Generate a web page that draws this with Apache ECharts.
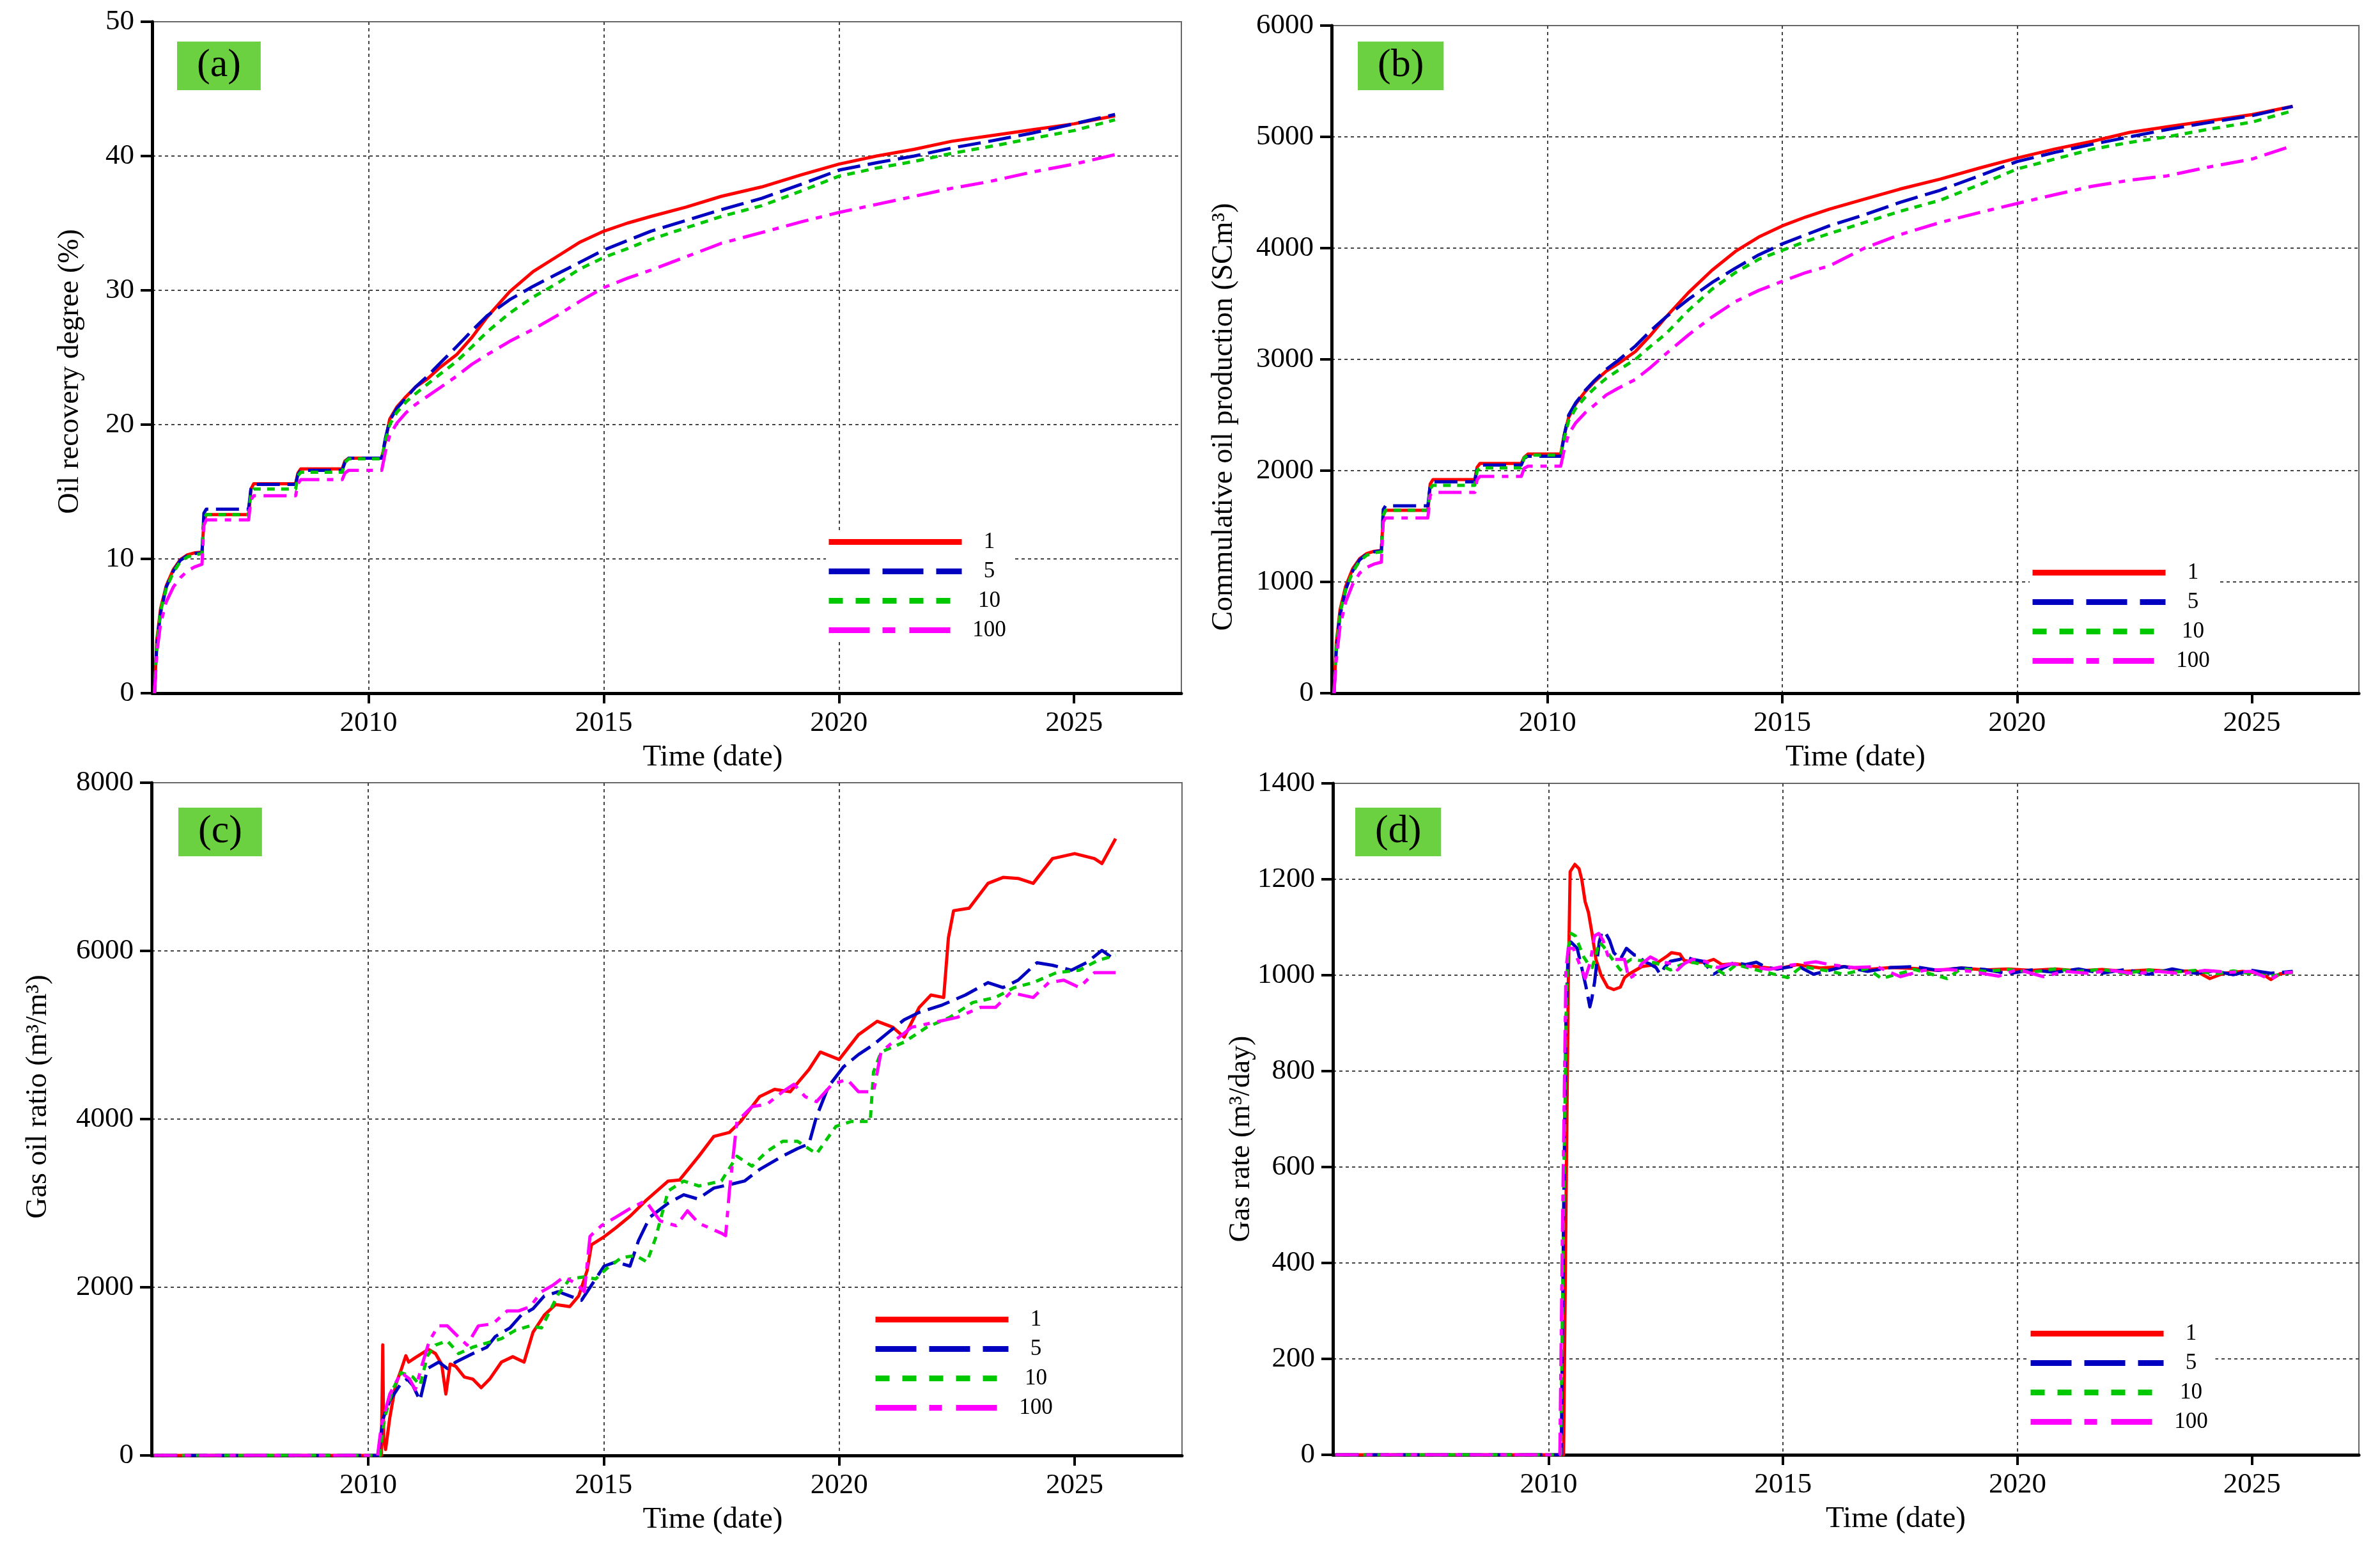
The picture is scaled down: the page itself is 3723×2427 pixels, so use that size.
<!DOCTYPE html>
<html>
<head>
<meta charset="utf-8">
<script src="https://cdn.jsdelivr.net/npm/echarts@6/dist/echarts.min.js"></script>
<style>
  html, body { margin: 0; padding: 0; background: #fff; }
  #chart { width: 3723px; height: 2427px; }
</style>
</head>
<body>
<div id="chart"></div>
<script>
/*
 * Four panels (a)-(d): recovery, cumulative oil, GOR and gas rate versus time
 * for the four cases 1, 5, 10, 100. Time is kept as decimal years.
 */
var caseNames = ['1', '5', '10', '100'];
var yearTicks = [2010, 2015, 2020, 2025];

// (a) and (b) share the step-wise time base
var stepYears = [2005.45, 2005.5, 2005.58, 2005.7, 2005.85, 2006.0, 2006.15, 2006.3, 2006.46, 2006.5, 2006.55,
  2007.45, 2007.5, 2007.56, 2008.45, 2008.5, 2008.56, 2009.44, 2009.5, 2009.58, 2010.28, 2010.36, 2010.45,
  2010.6, 2010.8, 2011.0, 2011.25, 2011.5, 2011.87, 2012.2, 2012.52, 2013.0, 2013.5, 2014.0, 2014.5, 2015.0,
  2015.5, 2016.0, 2016.75, 2017.5, 2018.36, 2019.2, 2020.0, 2020.8, 2021.6, 2022.4, 2023.2, 2024.1, 2025.0, 2025.87];

// (a) oil recovery degree, %
var recovery1 = [0, 4.0, 6.3, 8.0, 9.2, 9.95, 10.3, 10.45, 10.5, 12.8, 13.3, 13.3, 15.2, 15.6, 15.6, 16.4, 16.7, 16.7,
  17.3, 17.5, 17.5, 18.8, 20.4, 21.3, 22.1, 22.8, 23.4, 24.2, 25.2, 26.5, 28.0, 29.9, 31.4, 32.5, 33.6, 34.4, 35.0,
  35.5, 36.2, 37.0, 37.7, 38.6, 39.4, 40.0, 40.5, 41.1, 41.5, 41.95, 42.4, 43.0];
var recovery5 = [0, 3.6, 6.0, 7.9, 9.1, 9.9, 10.25, 10.4, 10.45, 13.4, 13.7, 13.7, 15.2, 15.55, 15.55, 16.3, 16.6, 16.6,
  17.2, 17.5, 17.5, 19.0, 20.3, 21.2, 22.0, 22.8, 23.6, 24.5, 25.8, 27.0, 28.1, 29.3, 30.3, 31.2, 32.1, 33.0, 33.7,
  34.4, 35.2, 36.0, 36.85, 37.9, 38.95, 39.5, 40.0, 40.6, 41.1, 41.7, 42.4, 43.1];
var recovery10 = [0, 3.8, 6.1, 7.8, 9.0, 9.8, 10.15, 10.3, 10.4, 12.9, 13.3, 13.3, 14.9, 15.2, 15.2, 16.2, 16.45, 16.45,
  17.2, 17.45, 17.45, 18.8, 20.0, 20.9, 21.7, 22.3, 23.0, 23.7, 24.7, 25.8, 26.9, 28.3, 29.5, 30.5, 31.6, 32.45, 33.1,
  33.8, 34.65, 35.5, 36.3, 37.4, 38.5, 39.1, 39.6, 40.2, 40.7, 41.3, 41.9, 42.7];
var recovery100 = [0, 3.0, 5.2, 6.8, 7.9, 8.6, 9.1, 9.4, 9.6, 12.5, 12.9, 12.9, 14.4, 14.7, 14.7, 15.6, 15.9, 15.9,
  16.4, 16.6, 16.6, 18.0, 19.2, 20.1, 20.9, 21.5, 22.1, 22.7, 23.6, 24.5, 25.2, 26.2, 27.1, 28.1, 29.2, 30.2, 30.9,
  31.5, 32.5, 33.5, 34.3, 35.1, 35.8, 36.4, 37.0, 37.6, 38.1, 38.8, 39.4, 40.1];

// (b) cumulative oil production, SCm3
var cumOil1 = [0, 450, 750, 960, 1120, 1210, 1255, 1275, 1283, 1600, 1644, 1644, 1880, 1920, 1920, 2030, 2064, 2064,
  2120, 2149, 2149, 2330, 2480, 2600, 2710, 2800, 2895, 2960, 3070, 3220, 3380, 3600, 3800, 3970, 4100, 4200, 4280,
  4350, 4440, 4530, 4620, 4720, 4810, 4890, 4960, 5040, 5090, 5145, 5200, 5274];
var cumOil5 = [0, 380, 700, 930, 1100, 1200, 1250, 1270, 1280, 1650, 1684, 1684, 1870, 1900, 1900, 2020, 2050, 2050,
  2110, 2130, 2130, 2330, 2500, 2610, 2720, 2810, 2910, 2990, 3120, 3260, 3380, 3540, 3690, 3820, 3940, 4038, 4120,
  4200, 4300, 4410, 4520, 4650, 4778, 4860, 4933, 5000, 5066, 5130, 5190, 5274];
var cumOil10 = [0, 400, 720, 930, 1090, 1190, 1240, 1262, 1270, 1600, 1644, 1644, 1840, 1868, 1868, 2000, 2025, 2025,
  2115, 2140, 2140, 2300, 2450, 2560, 2660, 2740, 2830, 2900, 3000, 3120, 3230, 3440, 3630, 3780, 3900, 3981, 4060,
  4130, 4230, 4330, 4430, 4570, 4711, 4800, 4889, 4950, 5000, 5070, 5132, 5234];
var cumOil100 = [0, 300, 600, 820, 980, 1080, 1130, 1160, 1178, 1540, 1575, 1575, 1780, 1805, 1805, 1920, 1948, 1948,
  2020, 2040, 2040, 2200, 2330, 2430, 2520, 2590, 2680, 2740, 2820, 2930, 3050, 3220, 3380, 3520, 3620, 3702, 3780,
  3840, 4000, 4120, 4230, 4320, 4401, 4480, 4556, 4610, 4650, 4730, 4800, 4920];

// (c) gas oil ratio, m3/m3
var gorYears1 = [2005.45, 2010.28, 2010.31, 2010.33, 2010.37, 2010.46, 2010.58, 2010.71, 2010.8, 2010.86, 2011.0,
  2011.28, 2011.43, 2011.56, 2011.65, 2011.74, 2011.86, 2012.04, 2012.22, 2012.4, 2012.58, 2012.83, 2013.07, 2013.31,
  2013.5, 2013.74, 2013.98, 2014.28, 2014.47, 2014.65, 2014.74, 2015.01, 2015.26, 2015.57, 2015.89, 2016.37, 2016.61,
  2017.02, 2017.34, 2017.67, 2017.91, 2018.31, 2018.63, 2018.96, 2019.36, 2019.6, 2020.0, 2020.41, 2020.81, 2021.14,
  2021.38, 2021.7, 2021.95, 2022.22, 2022.32, 2022.43, 2022.76, 2023.16, 2023.48, 2023.8, 2024.12, 2024.53, 2025.0,
  2025.42, 2025.58, 2025.87];
var gor1 = [0, 0, 1316, 200, 70, 451, 831, 1034, 1186, 1110, 1163, 1262, 1211, 1086, 730, 1086, 1060, 933, 908, 806,
  908, 1110, 1174, 1110, 1465, 1668, 1795, 1770, 1896, 2200, 2504, 2600, 2707, 2850, 3027, 3263, 3275, 3558, 3794,
  3841, 3971, 4266, 4354, 4325, 4590, 4797, 4708, 5003, 5163, 5092, 4974, 5328, 5475, 5446, 6154, 6478, 6508, 6803,
  6874, 6862, 6803, 7098, 7157, 7098, 7039, 7334];
var gorYears5 = [2005.45, 2010.22, 2010.31, 2010.46, 2010.7, 2010.83, 2010.95, 2011.1, 2011.26, 2011.5, 2011.68,
  2011.86, 2012.22, 2012.52, 2012.7, 2013.01, 2013.25, 2013.5, 2013.74, 2014.04, 2014.28, 2014.53, 2014.77, 2015.01,
  2015.26, 2015.56, 2015.74, 2015.98, 2016.37, 2016.7, 2017.0, 2017.34, 2017.67, 2017.99, 2018.31, 2018.8, 2019.12,
  2019.36, 2019.52, 2019.77, 2020.09, 2020.41, 2020.73, 2021.05, 2021.38, 2021.7, 2022.19, 2022.68, 2023.16, 2023.48,
  2023.8, 2024.2, 2024.53, 2024.93, 2025.25, 2025.58, 2025.87];
var gor5 = [0, 0, 426, 654, 857, 908, 832, 654, 1034, 1110, 1034, 1110, 1211, 1287, 1414, 1516, 1668, 1744, 1896,
  1947, 1896, 1845, 2048, 2251, 2301, 2251, 2555, 2833, 3000, 3100, 3050, 3180, 3220, 3263, 3400, 3560, 3650, 3705,
  4030, 4384, 4620, 4767, 4885, 5033, 5180, 5269, 5357, 5475, 5623, 5564, 5652, 5859, 5829, 5770, 5859, 6006, 5888];
var gorYears10 = [2005.45, 2010.25, 2010.34, 2010.52, 2010.7, 2010.95, 2011.1, 2011.26, 2011.43, 2011.68, 2011.92,
  2012.22, 2012.52, 2012.83, 2013.13, 2013.44, 2013.68, 2013.86, 2014.04, 2014.28, 2014.59, 2014.83, 2015.07, 2015.38,
  2015.68, 2015.92, 2016.1, 2016.22, 2016.37, 2016.7, 2017.02, 2017.5, 2017.83, 2018.15, 2018.47, 2018.8, 2019.12,
  2019.52, 2019.93, 2020.25, 2020.66, 2020.73, 2020.89, 2021.38, 2021.86, 2022.35, 2022.84, 2023.32, 2023.72, 2024.12,
  2024.61, 2025.1, 2025.5, 2025.87];
var gor10 = [0, 0, 426, 781, 984, 933, 832, 1186, 1313, 1363, 1211, 1287, 1338, 1389, 1490, 1541, 1516, 1718, 1921,
  2099, 2124, 2099, 2225, 2352, 2377, 2301, 2580, 2833, 3145, 3263, 3204, 3263, 3558, 3440, 3617, 3735, 3735, 3587,
  3912, 3971, 3971, 4561, 4797, 4915, 5092, 5210, 5387, 5446, 5564, 5623, 5741, 5770, 5888, 5947];
var gorYears100 = [2005.45, 2010.2, 2010.28, 2010.46, 2010.7, 2010.88, 2011.0, 2011.15, 2011.3, 2011.49, 2011.68,
  2011.86, 2012.1, 2012.34, 2012.65, 2012.95, 2013.19, 2013.44, 2013.68, 2013.92, 2014.16, 2014.4, 2014.59, 2014.71,
  2014.95, 2015.26, 2015.6, 2015.89, 2016.2, 2016.54, 2016.78, 2017.02, 2017.5, 2017.59, 2017.67, 2017.83, 2018.15,
  2018.47, 2018.8, 2019.04, 2019.28, 2019.52, 2019.85, 2020.17, 2020.41, 2020.73, 2020.89, 2021.14, 2021.54, 2022.03,
  2022.51, 2023.0, 2023.32, 2023.64, 2024.12, 2024.45, 2024.77, 2025.1, 2025.42, 2025.87];
var gor100 = [0, 0, 355, 730, 984, 908, 781, 1086, 1363, 1541, 1541, 1440, 1313, 1541, 1566, 1718, 1718, 1769, 1947,
  2023, 2124, 2048, 1947, 2605, 2732, 2833, 2950, 3027, 2790, 2732, 2909, 2761, 2643, 2614, 3145, 3971, 4148, 4177,
  4325, 4413, 4266, 4207, 4413, 4472, 4325, 4325, 4797, 4915, 5092, 5151, 5210, 5328, 5328, 5505, 5446, 5623, 5652,
  5564, 5741, 5741];

// (d) gas rate, m3/day
var rateYears1 = [2005.45, 2010.32, 2010.38, 2010.42, 2010.46, 2010.56, 2010.65, 2010.71, 2010.78, 2010.85, 2010.92,
  2011.01, 2011.12, 2011.26, 2011.39, 2011.53, 2011.62, 2011.71, 2011.99, 2012.26, 2012.53, 2012.62, 2012.8, 2012.89,
  2013.07, 2013.34, 2013.52, 2013.7, 2013.97, 2014.43, 2014.88, 2015.3, 2015.8, 2016.3, 2016.8, 2017.3, 2017.8,
  2018.3, 2018.8, 2019.3, 2019.8, 2020.3, 2020.8, 2021.3, 2021.8, 2022.3, 2022.8, 2023.3, 2023.8, 2024.1, 2024.4,
  2024.8, 2025.2, 2025.4, 2025.6, 2025.87];
var rate1 = [0, 0, 600, 980, 1216, 1231, 1222, 1198, 1153, 1131, 1091, 1033, 1000, 975, 970, 975, 995, 1002, 1018,
  1022, 1040, 1047, 1044, 1031, 1027, 1027, 1033, 1022, 1024, 1018, 1013, 1022, 1015, 1018, 1012, 1016, 1014, 1010,
  1015, 1011, 1013, 1010, 1013, 1009, 1012, 1008, 1011, 1008, 1009, 993, 1004, 1008, 1004, 991, 1003, 1006];
var rateYears5 = [2005.45, 2010.27, 2010.32, 2010.37, 2010.42, 2010.48, 2010.61, 2010.72, 2010.8, 2010.88, 2010.92,
  2010.98, 2011.08, 2011.14, 2011.21, 2011.3, 2011.39, 2011.53, 2011.66, 2011.72, 2011.83, 2011.93, 2012.02, 2012.15,
  2012.29, 2012.38, 2012.47, 2012.6, 2012.8, 2012.93, 2013.07, 2013.29, 2013.52, 2013.75, 2013.97, 2014.2, 2014.43,
  2014.65, 2014.88, 2015.3, 2015.65, 2016.3, 2016.8, 2017.3, 2017.8, 2018.3, 2018.8, 2019.3, 2019.8, 2020.3, 2020.8,
  2021.3, 2021.8, 2022.3, 2022.8, 2023.3, 2023.8, 2024.2, 2024.6, 2025.0, 2025.4, 2025.87];
var rate5 = [0, 0, 500, 900, 1060, 1069, 1056, 1010, 975, 934, 950, 985, 1069, 1091, 1089, 1073, 1047, 1033, 1056,
  1051, 1042, 1042, 1029, 1024, 1016, 1002, 1016, 1029, 1033, 1038, 1033, 1029, 1002, 1016, 1027, 1022, 1027, 1016,
  1013, 1020, 1002, 1018, 1008, 1016, 1018, 1010, 1015, 1012, 1003, 1011, 1006, 1013, 1004, 1012, 1002, 1013, 1004,
  1009, 1001, 1010, 1004, 1008];
var rateYears10 = [2005.45, 2010.26, 2010.32, 2010.38, 2010.42, 2010.48, 2010.57, 2010.66, 2010.75, 2010.84, 2010.93,
  2011.01, 2011.08, 2011.17, 2011.26, 2011.39, 2011.53, 2011.62, 2011.76, 2012.0, 2012.3, 2012.6, 2012.83, 2013.07,
  2013.52, 2013.75, 2014.0, 2014.43, 2014.9, 2015.1, 2015.4, 2015.9, 2016.3, 2016.8, 2017.1, 2017.8, 2018.5, 2018.8,
  2019.3, 2019.8, 2020.3, 2020.8, 2021.3, 2021.8, 2022.3, 2022.8, 2023.3, 2023.8, 2024.2, 2024.6, 2025.0, 2025.4, 2025.87];
var rate10 = [0, 0, 500, 950, 1056, 1087, 1082, 1060, 1038, 1024, 1016, 1042, 1069, 1060, 1047, 1029, 1011, 1024,
  1033, 1030, 1025, 1011, 1022, 1027, 1016, 1002, 1022, 1011, 1000, 995, 1018, 1010, 1002, 1014, 993, 1012, 993,
  1014, 1008, 1012, 1006, 1013, 1008, 1012, 1004, 1011, 1006, 1010, 1002, 1009, 1003, 998, 1006];
var rateYears100 = [2005.45, 2010.24, 2010.3, 2010.37, 2010.42, 2010.53, 2010.62, 2010.71, 2010.78, 2010.89, 2010.98,
  2011.07, 2011.16, 2011.26, 2011.35, 2011.53, 2011.62, 2011.71, 2011.8, 2011.99, 2012.17, 2012.35, 2012.62, 2012.75,
  2012.89, 2013.07, 2013.34, 2013.6, 2013.9, 2014.3, 2014.7, 2015.1, 2015.7, 2016.0, 2016.5, 2017.0, 2017.5, 2018.0,
  2018.5, 2019.0, 2019.6, 2020.0, 2020.55, 2021.0, 2021.5, 2022.0, 2022.5, 2023.0, 2023.5, 2024.0, 2024.5, 2025.0,
  2025.4, 2025.6, 2025.87];
var rate100 = [0, 0, 500, 1011, 1056, 1056, 1033, 1011, 993, 1027, 1082, 1087, 1073, 1042, 1033, 1033, 1033, 993,
  998, 1024, 1038, 1029, 1024, 1011, 1024, 1033, 1029, 1016, 1024, 1018, 1012, 1020, 1028, 1022, 1016, 1018, 997,
  1010, 1012, 1008, 998, 1012, 997, 1008, 1004, 1010, 1003, 1008, 1003, 1010, 1006, 1008, 991, 1005, 1006];

var serif = '"Liberation Serif", "Times New Roman", serif';
var caseStyles = [
  { color: '#ff0000', dash: 'solid', legendDash: 'solid' },
  { color: '#0000c0', dash: [36, 12], legendDash: [64, 20] },
  { color: '#00c800', dash: [12, 10], legendDash: [22, 20] },
  { color: '#ff00ff', dash: [36, 12, 10, 12], legendDash: [64, 20, 20, 22] }
];

var panels = [
  { rect: [238, 34, 1610, 1050], yMax: 50, yStep: 10, yName: 'Oil recovery degree (%)', yGap: 105, yShift: 22, xShift: 72,
    tag: '(a)', tagPos: [277, 65], legendPos: [1292, 830],
    lines: [[stepYears, recovery1], [stepYears, recovery5], [stepYears, recovery10], [stepYears, recovery100]] },
  { rect: [2083, 40, 1607, 1044], yMax: 6000, yStep: 1000, yName: 'Commulative oil production (SCm³)', yGap: 145, yShift: 90, xShift: 16,
    tag: '(b)', tagPos: [2124, 65], legendPos: [3175, 878],
    lines: [[stepYears, cumOil1], [stepYears, cumOil5], [stepYears, cumOil10], [stepYears, cumOil100]] },
  { rect: [237, 1224, 1612, 1052], yMax: 8000, yStep: 2000, yName: 'Gas oil ratio (m³/m³)', yGap: 154, yShift: -35, xShift: 72,
    tag: '(c)', tagPos: [279, 1263], legendPos: [1365, 2046],
    lines: [[gorYears1, gor1], [gorYears5, gor5], [gorYears10, gor10], [gorYears100, gor100]] },
  { rect: [2085, 1225, 1605, 1050], yMax: 1400, yStep: 200, yName: 'Gas rate (m³/day)', yGap: 120, yShift: 31, xShift: 78,
    tag: '(d)', tagPos: [2120, 1263], legendPos: [3172, 2068],
    lines: [[rateYears1, rate1], [rateYears5, rate5], [rateYears10, rate10], [rateYears100, rate100]] }
];

function pairs(xs, ys) {
  return xs.map(function (x, i) { return [x, ys[i]]; });
}
function plain(v) { return String(v); }

var gridLine = { show: true, showMaxLine: false, lineStyle: { color: '#444', width: 2, type: [5, 5] } };
var tickFont = { color: '#000', fontFamily: serif, fontSize: 45 };

var option = {
  backgroundColor: '#fff',
  animation: false,
  title: [], legend: [], grid: [], xAxis: [], yAxis: [], series: []
};

panels.forEach(function (p, k) {
  option.grid.push({
    left: p.rect[0], top: p.rect[1], width: p.rect[2], height: p.rect[3],
    show: true, borderColor: '#666', borderWidth: 2, containLabel: false, outerBoundsMode: 'none'
  });
  option.xAxis.push({
    gridIndex: k, type: 'value', min: 2005.4, max: 2027.28,
    name: 'Time (date)', nameLocation: 'middle', nameGap: 77, nameMoveOverlap: false,
    nameTextStyle: { color: '#000', fontFamily: serif, fontSize: 47, padding: [0, 0, 0, 2 * p.xShift] },
    axisLine: { onZero: false, lineStyle: { color: '#000', width: 5 } },
    axisTick: { customValues: yearTicks, length: 16, lineStyle: { color: '#000', width: 4 } },
    axisLabel: Object.assign({ customValues: yearTicks, margin: 25, formatter: plain }, tickFont),
    splitLine: gridLine
  });
  option.yAxis.push({
    gridIndex: k, type: 'value', min: 0, max: p.yMax, interval: p.yStep,
    name: p.yName, nameLocation: 'middle', nameGap: p.yGap, nameMoveOverlap: false,
    nameTextStyle: {
      color: '#000', fontFamily: serif, fontSize: 46,
      padding: p.yShift > 0 ? [0, 2 * p.yShift, 0, 0] : [0, 0, 0, -2 * p.yShift]
    },
    axisLine: { lineStyle: { color: '#000', width: 5 } },
    axisTick: { length: 18, lineStyle: { color: '#000', width: 4 } },
    axisLabel: Object.assign({ margin: 28, formatter: plain }, tickFont),
    splitLine: gridLine
  });
  option.title.push({
    text: p.tag, left: p.tagPos[0], top: p.tagPos[1],
    backgroundColor: '#6cd140', padding: [7, 31, 7, 31],
    textStyle: { color: '#000', fontFamily: serif, fontSize: 62, fontWeight: 'normal', lineHeight: 62 }
  });
  option.legend.push({
    orient: 'vertical', left: p.legendPos[0], top: p.legendPos[1],
    itemWidth: 208, itemHeight: 9, itemGap: 11, padding: 0,
    backgroundColor: '#fff', selectedMode: false,
    formatter: '{c|{name}}',
    textStyle: {
      color: '#000', fontFamily: serif, fontSize: 35,
      rich: { c: { width: 76, align: 'center', lineHeight: 46, fontFamily: serif, fontSize: 35, color: '#000' } }
    },
    data: caseNames.map(function (n, i) {
      return { name: n, lineStyle: { width: 9, type: caseStyles[i].legendDash }, itemStyle: { opacity: 0 } };
    })
  });
  p.lines.forEach(function (ln, i) {
    var st = caseStyles[i];
    option.series.push({
      name: caseNames[i], type: 'line', xAxisIndex: k, yAxisIndex: k,
      data: pairs(ln[0], ln[1]),
      symbol: 'none', showSymbol: false, smooth: false, silent: true, z: 2 + i,
      itemStyle: { color: st.color },
      lineStyle: { color: st.color, width: 5, type: st.dash, join: 'round' }
    });
  });
});

var chart = echarts.init(document.getElementById('chart'));
chart.setOption(option);
</script>
</body>
</html>
